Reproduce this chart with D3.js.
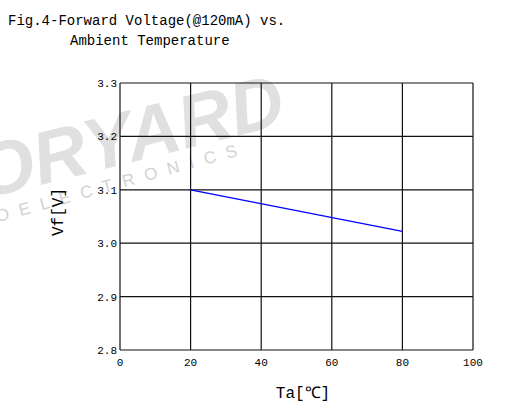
<!DOCTYPE html>
<html>
<head>
<meta charset="utf-8">
<script src="https://cdn.jsdelivr.net/npm/d3@7"></script>
<style>
  body { margin: 0; background: #fff; }
  text { font-family: "Liberation Mono", "DejaVu Sans Mono", monospace; fill: #000; }
</style>
</head>
<body>
<div id="chart"></div>
<script>
// data
const temps = [20, 80];
const vf = [3.1, 3.022];
const xTicks = [0, 20, 40, 60, 80, 100];
const yTicks = [2.8, 2.9, 3.0, 3.1, 3.2, 3.3];
const titleLines = ["Fig.4-Forward Voltage(@120mA) vs.", "Ambient Temperature"];

let width = 506, height = 406;
let margin = {top: 83, right: 33, bottom: 56, left: 120};
let innerWidth = width - margin.left - margin.right;
let innerHeight = height - margin.top - margin.bottom;

let svg = d3.select("#chart").append("svg")
  .attr("width", width)
  .attr("height", height);

// watermark (behind everything)
let wm = svg.append("g").attr("transform", "translate(-68,212) rotate(-14)");
wm.append("text")
  .text("DORYARD")
  .style("font-family", "Liberation Sans, Arial, sans-serif")
  .style("font-weight", "bold")
  .style("font-style", "italic")
  .style("font-size", "74px")
  .style("fill", "#e0e0e0");
let wm2 = svg.append("g").attr("transform", "translate(-66,240) rotate(-15.5)");
wm2.append("text")
  .text("OPTOELECTRONICS")
  .style("font-family", "Liberation Sans, Arial, sans-serif")
  .style("font-size", "17px")
  .style("letter-spacing", "10.5px")
  .style("fill", "#d2d2d2");

// title
svg.append("text").attr("x", 8).attr("y", 25)
  .style("font-size", "14px").text(titleLines[0]);
svg.append("text").attr("x", 70).attr("y", 45)
  .style("font-size", "14px").text(titleLines[1]);

let g = svg.append("g")
  .attr("transform", "translate(" + margin.left + "," + margin.top + ")");

let x = d3.scaleLinear().domain([0, 100]).range([0, innerWidth]);
let y = d3.scaleLinear().domain([2.8, 3.3]).range([innerHeight, 0]);

// grid
g.selectAll(".vgrid").data(xTicks).join("line")
  .attr("class", "vgrid")
  .attr("x1", d => x(d)).attr("x2", d => x(d))
  .attr("y1", 0).attr("y2", innerHeight)
  .attr("stroke", "#111").attr("stroke-width", 1.2);
g.selectAll(".hgrid").data(yTicks).join("line")
  .attr("class", "hgrid")
  .attr("x1", 0).attr("x2", innerWidth)
  .attr("y1", d => y(d)).attr("y2", d => y(d))
  .attr("stroke", "#111").attr("stroke-width", 1.2);

// tick labels
g.selectAll(".xlab").data(xTicks).join("text")
  .attr("class", "xlab")
  .attr("x", d => x(d)).attr("y", innerHeight + 16)
  .attr("text-anchor", "middle")
  .style("font-size", "11px")
  .text(d => d);
g.selectAll(".ylab").data(yTicks).join("text")
  .attr("class", "ylab")
  .attr("x", -3).attr("y", d => y(d) + 4)
  .attr("text-anchor", "end")
  .style("font-size", "11px")
  .text(d => d3.format(".1f")(d));

// line
let line = d3.line().x(d => x(d[0])).y(d => y(d[1]));
g.append("path")
  .datum(d3.zip(temps, vf))
  .attr("fill", "none")
  .attr("stroke", "#0000ff")
  .attr("stroke-width", 1.2)
  .attr("d", line);

// axis titles
svg.append("text")
  .attr("x", 303).attr("y", 398)
  .attr("text-anchor", "middle")
  .style("font-size", "16px")
  .text("Ta[℃]");
svg.append("text")
  .attr("transform", "translate(63,212) rotate(-90)")
  .attr("text-anchor", "middle")
  .style("font-size", "16px")
  .text("Vf[V]");
</script>
</body>
</html>
